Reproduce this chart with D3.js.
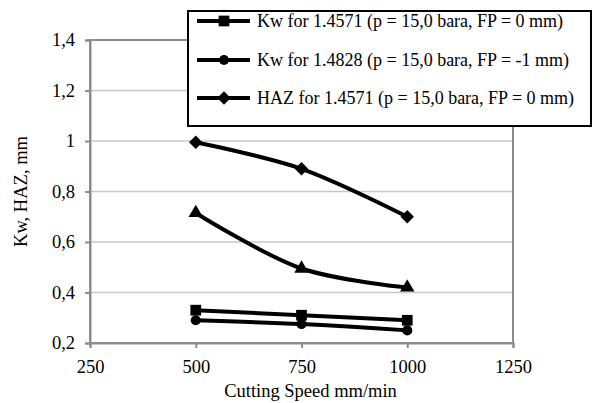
<!DOCTYPE html>
<head>
    <meta charset="utf-8">
    <title>Kw and HAZ vs cutting speed</title>
    <script src="https://d3js.org/d3.v7.min.js"></script>
    <style>
    body { margin: 0; background: #fff; }
    text { font-family: "Liberation Serif", "Times New Roman", serif; fill: #000; }
    </style>
</head>
<body>
<script>
// cutting speed, mm/min
var speeds = [500, 750, 1000];

var kw4571  = [0.33, 0.31, 0.29];
var kw4828  = [0.29, 0.275, 0.25];
var haz4571 = [0.995, 0.89, 0.70];
var haz4828 = [0.715, 0.495, 0.42];   // triangles, legend entry hidden by the box

var xTicks = [250, 500, 750, 1000, 1250];
var yTicks = [0.2, 0.4, 0.6, 0.8, 1, 1.2, 1.4];

var series = [
    {name: "Kw for 1.4571 (p = 15,0 bara, FP = 0 mm)",  values: kw4571,  sym: d3.symbolSquare,   size: 115, legend: true},
    {name: "Kw for 1.4828 (p = 15,0 bara, FP = -1 mm)", values: kw4828,  sym: d3.symbolCircle,   size: 80,  legend: true},
    {name: "HAZ for 1.4571 (p = 15,0 bara, FP = 0 mm)", values: haz4571, sym: d3.symbolDiamond2, size: 115, legend: true},
    {name: "HAZ for 1.4828",                             values: haz4828, sym: d3.symbolTriangle, size: 90,  legend: false}
];

var W = 593, H = 403;
var pl = 90, pr = 513, pt = 40, pb = 343;

var svg = d3.select("body").append("svg")
    .attr("width", W)
    .attr("height", H);

var x = d3.scaleLinear().domain([250, 1250]).range([pl, pr]);
var y = d3.scaleLinear().domain([0.2, 1.4]).range([pb, pt]);

var fmt = function(d) { return d3.format("~g")(d).replace(".", ","); };

// gridlines
svg.append("g").selectAll("line")
    .data(yTicks.slice(1, -1))
    .enter().append("line")
    .attr("x1", pl).attr("x2", pr)
    .attr("y1", function(d) { return y(d); })
    .attr("y2", function(d) { return y(d); })
    .attr("stroke", "#c8c8c8")
    .attr("stroke-width", 1.5);

// frame
svg.append("rect")
    .attr("x", pl).attr("y", pt)
    .attr("width", pr - pl).attr("height", pb - pt)
    .attr("fill", "none")
    .attr("stroke", "#8c8c8c")
    .attr("stroke-width", 2);

var xAxis = svg.append("g")
    .attr("transform", "translate(0," + pb + ")")
    .call(d3.axisBottom(x).tickValues(xTicks).tickFormat(d3.format("d")).tickSize(5).tickPadding(12));
var yAxis = svg.append("g")
    .attr("transform", "translate(" + pl + ",0)")
    .call(d3.axisLeft(y).tickValues(yTicks).tickFormat(fmt).tickSize(5).tickPadding(10));

[xAxis, yAxis].forEach(function(a) {
    a.select(".domain").attr("stroke", "#8c8c8c").attr("stroke-width", 2);
    a.selectAll(".tick line").attr("stroke", "#8c8c8c").attr("stroke-width", 2);
    a.selectAll(".tick text").style("font-size", "18.5px").attr("fill", "#000");
});

var line = d3.line()
    .x(function(d) { return x(d[0]); })
    .y(function(d) { return y(d[1]); })
    .curve(d3.curveCatmullRom.alpha(0.5));

series.forEach(function(s) {
    var pts = speeds.map(function(v, i) { return [v, s.values[i]]; });
    svg.append("path")
        .datum(pts)
        .attr("d", line)
        .attr("fill", "none")
        .attr("stroke", "#000")
        .attr("stroke-width", 4)
        .attr("stroke-linejoin", "round");
    svg.append("g").selectAll("path")
        .data(pts)
        .enter().append("path")
        .attr("transform", function(d) { return "translate(" + x(d[0]) + "," + y(d[1]) + ")"; })
        .attr("d", d3.symbol().type(s.sym).size(s.size))
        .attr("fill", "#000");
});

// axis titles
svg.append("text")
    .attr("x", (pl + pr) / 2 + 9)
    .attr("y", 397)
    .attr("text-anchor", "middle")
    .style("font-size", "18.5px")
    .text("Cutting Speed mm/min");

svg.append("text")
    .attr("transform", "translate(27," + ((pt + pb) / 2) + ") rotate(-90)")
    .attr("text-anchor", "middle")
    .style("font-size", "18.5px")
    .text("Kw, HAZ, mm");

// legend
var lg = svg.append("g");
lg.append("rect")
    .attr("x", 188).attr("y", 11)
    .attr("width", 403).attr("height", 115)
    .attr("fill", "#fff")
    .attr("stroke", "#000")
    .attr("stroke-width", 2);

var rows = lg.selectAll("g.row")
    .data(series.filter(function(s) { return s.legend; }))
    .enter().append("g")
    .attr("class", "row")
    .attr("transform", function(d, i) { return "translate(0," + [21, 60, 98][i] + ")"; });

rows.append("line")
    .attr("x1", 197).attr("x2", 250)
    .attr("stroke", "#000").attr("stroke-width", 4);
rows.append("path")
    .attr("transform", "translate(224,0)")
    .attr("d", function(d) { return d3.symbol().type(d.sym).size(d.size)(); })
    .attr("fill", "#000");
rows.append("text")
    .attr("x", 257)
    .attr("dy", "0.35em")
    .style("font-size", "18px")
    .text(function(d) { return d.name; });
</script>
</body>
